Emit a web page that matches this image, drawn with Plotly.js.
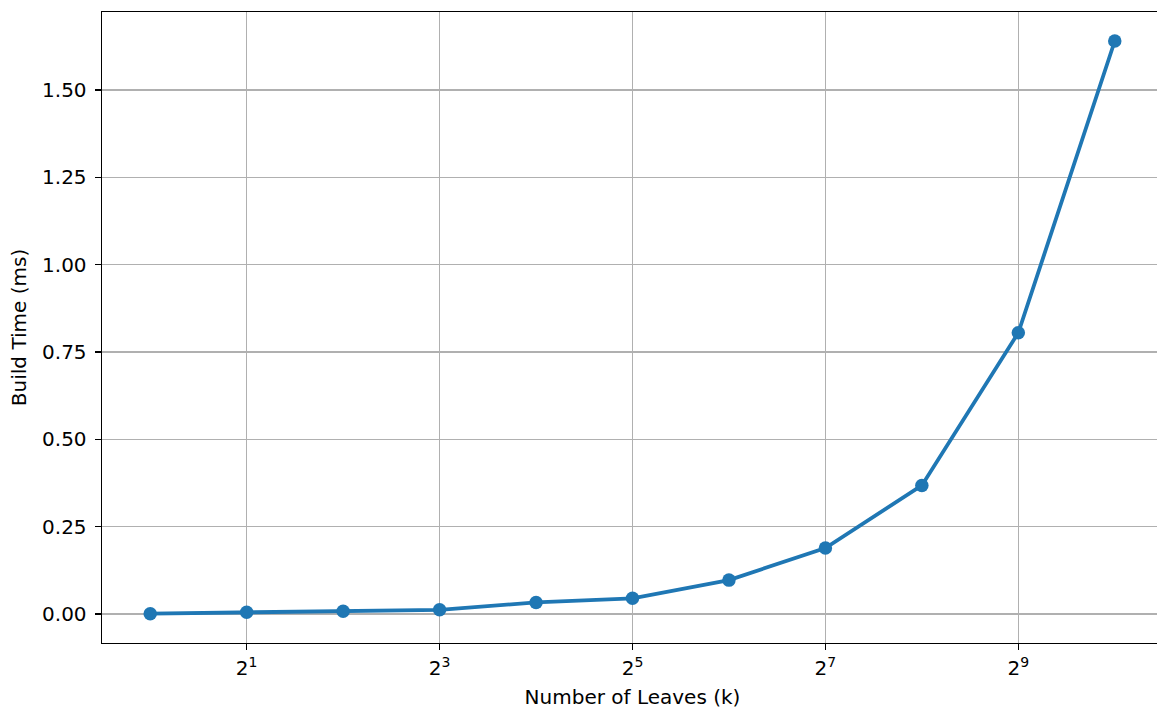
<!DOCTYPE html>
<html>
<head>
<meta charset="utf-8">
<script src="https://cdn.plot.ly/plotly-3.0.1.min.js"></script>
<style>
  html, body { margin: 0; padding: 0; overflow: hidden; background: #fff; }
  #chart { width: 1163px; height: 709px; }
</style>
</head>
<body>
<div id="chart"></div>
<script>
// Build time vs. number of leaves (k), k = 2^0 .. 2^10
const leaves = [1, 2, 4, 8, 16, 32, 64, 128, 256, 512, 1024];
const buildTimeMs = [0.001, 0.005, 0.008, 0.012, 0.033, 0.045, 0.097, 0.189, 0.368, 0.805, 1.64];

const xTickVals = [2, 8, 32, 128, 512];
const xTickText = ['2<sup>1</sup>', '2<sup>3</sup>', '2<sup>5</sup>', '2<sup>7</sup>', '2<sup>9</sup>'];
const yTickVals = [0, 0.25, 0.5, 0.75, 1.0, 1.25, 1.5];

const log2 = Math.log10(2);

const trace = {
  x: leaves,
  y: buildTimeMs,
  type: 'scatter',
  mode: 'lines+markers',
  line: { color: '#1f77b4', width: 3.8 },
  marker: { color: '#1f77b4', size: 13.5 },
  hoverinfo: 'x+y'
};

const fontMain = { family: 'DejaVu Sans, sans-serif', size: 20, color: '#000' };

const layout = {
  width: 1163,
  height: 709,
  margin: { l: 102, r: 0, t: 12, b: 66 },
  paper_bgcolor: '#fff',
  plot_bgcolor: '#fff',
  showlegend: false,
  font: fontMain,
  xaxis: {
    type: 'log',
    range: [-0.5 * log2, 10.5 * log2],
    tickvals: xTickVals,
    ticktext: xTickText,
    ticks: 'outside',
    ticklen: 6,
    tickwidth: 1.2,
    tickcolor: '#000',
    ticklabelstandoff: 1,
    showgrid: true,
    gridcolor: '#b0b0b0',
    gridwidth: 1.4,
    showline: true,
    linecolor: '#000',
    linewidth: 1.4,
    mirror: true,
    zeroline: false,
    tickfont: fontMain,
    title: { text: 'Number of Leaves (k)', font: fontMain, standoff: 10 }
  },
  yaxis: {
    range: [-0.083, 1.723],
    tickvals: yTickVals,
    tickformat: '.2f',
    ticks: 'outside',
    ticklen: 6,
    tickwidth: 1.2,
    tickcolor: '#000',
    ticklabelstandoff: 4,
    showgrid: true,
    gridcolor: '#b0b0b0',
    gridwidth: 1.4,
    showline: true,
    linecolor: '#000',
    linewidth: 1.4,
    mirror: true,
    zeroline: false,
    tickfont: fontMain,
    title: { text: 'Build Time (ms)', font: fontMain, standoff: 10 }
  }
};

Plotly.newPlot('chart', [trace], layout, { displayModeBar: false, staticPlot: true });
</script>
</body>
</html>
